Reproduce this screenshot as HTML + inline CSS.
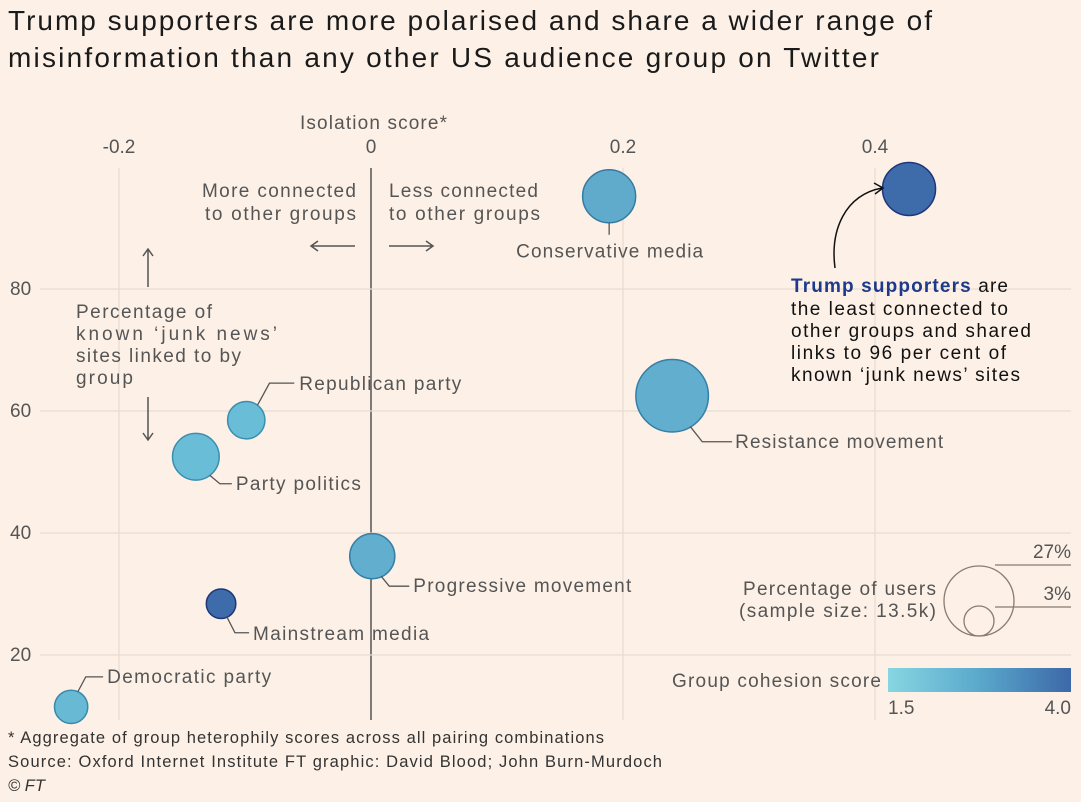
<!DOCTYPE html>
<html><head><meta charset="utf-8"><style>
body{margin:0;background:#fdf1e7;font-family:"Liberation Sans",sans-serif;}
svg{display:block}
text{font-family:"Liberation Sans",sans-serif}
</style></head><body>
<svg width="1081" height="802">
<rect width="1081" height="802" fill="#fdf1e7"/>
<text x="8" y="30" font-size="28" fill="#1a1a1a" textLength="924" lengthAdjust="spacing">Trump supporters are more polarised and share a wider range of</text>
<text x="8" y="67" font-size="28" fill="#1a1a1a" textLength="871" lengthAdjust="spacing">misinformation than any other US audience group on Twitter</text>
<g id="grid"></g>
<g id="marks"></g>
<text x="300" y="129" font-size="19" fill="#555" textLength="147" lengthAdjust="spacing">Isolation score*</text>
<text x="202" y="197" font-size="19" fill="#555" textLength="154" lengthAdjust="spacing">More connected</text>
<text x="205" y="220" font-size="19" fill="#555" textLength="151" lengthAdjust="spacing">to other groups</text>
<text x="389" y="197" font-size="19" fill="#555" textLength="149" lengthAdjust="spacing">Less connected</text>
<text x="389" y="220" font-size="19" fill="#555" textLength="151" lengthAdjust="spacing">to other groups</text>
<path d="M355 246 H312 M318 241 L311 246 L318 251" stroke="#555" fill="none" stroke-width="1.5"/>
<path d="M389 246 H432 M426 241 L433 246 L426 251" stroke="#555" fill="none" stroke-width="1.5"/>
<path d="M148 287 V249 M143 256 L148 249 L153 256" stroke="#555" fill="none" stroke-width="1.5"/>
<path d="M148 397 V440 M143 433 L148 440 L153 433" stroke="#555" fill="none" stroke-width="1.5"/>
<g font-size="19" fill="#555">
<text x="76" y="318" textLength="136" lengthAdjust="spacing">Percentage of</text><text x="76" y="340" textLength="201" lengthAdjust="spacing">known ‘junk news’</text><text x="76" y="362" textLength="165" lengthAdjust="spacing">sites linked to by</text><text x="76" y="384" textLength="57" lengthAdjust="spacing">group</text></g>
<g font-size="19" fill="#111">
<text x="791" y="292" textLength="217" lengthAdjust="spacing"><tspan fill="#1d3a8a" font-weight="bold">Trump supporters</tspan> are</text>
<text x="791" y="315" textLength="217" lengthAdjust="spacing">the least connected to</text><text x="791" y="337" textLength="240" lengthAdjust="spacing">other groups and shared</text>
<text x="791" y="359" textLength="215" lengthAdjust="spacing">links to 96 per cent of</text><text x="791" y="381" textLength="229" lengthAdjust="spacing">known ‘junk news’ sites</text></g>
<path d="M835 268 C830 230 845 195 882 188 M874 183 L883 188 L875 194" stroke="#111" fill="none" stroke-width="1.5"/>
<g>
<circle cx="979" cy="601" r="35" fill="none" stroke="#8a7a70" stroke-width="1.3"/>
<circle cx="979" cy="621" r="15" fill="none" stroke="#8a7a70" stroke-width="1.3"/>
<path d="M995 565 H1071 M995 607 H1071" stroke="#8a7a70" stroke-width="1.3"/>
<text x="1071" y="558" font-size="19" fill="#555" text-anchor="end">27%</text>
<text x="1071" y="600" font-size="19" fill="#555" text-anchor="end">3%</text>
<text x="743" y="595" font-size="19" fill="#555" textLength="193" lengthAdjust="spacing">Percentage of users</text>
<text x="739" y="617" font-size="19" fill="#555" textLength="197" lengthAdjust="spacing">(sample size: 13.5k)</text></g>
<defs><linearGradient id="cg"><stop offset="0" stop-color="#86d6e2"/><stop offset="0.5" stop-color="#5aa8cc"/><stop offset="1" stop-color="#3c68a8"/></linearGradient></defs>
<rect x="888" y="668" width="183" height="24" fill="url(#cg)"/>
<text x="672" y="687" font-size="19" fill="#555" textLength="209" lengthAdjust="spacing">Group cohesion score</text>
<text x="888" y="714" font-size="19" fill="#555">1.5</text>
<text x="1071" y="714" font-size="19" fill="#555" text-anchor="end">4.0</text>
<g font-size="16.5" fill="#333">
<text x="8" y="743" textLength="596" lengthAdjust="spacing">* Aggregate of group heterophily scores across all pairing combinations</text>
<text x="8" y="767" textLength="654" lengthAdjust="spacing">Source: Oxford Internet Institute  FT graphic: David Blood; John Burn-Murdoch</text>
<text x="8" y="791" font-style="italic">© FT</text></g>
</svg>
<script>
const xTicks=[-0.2,0,0.2,0.4];
const yTicks=[20,40,60,80];
const groups=["Trump supporters","Conservative media","Resistance movement","Republican party","Party politics","Progressive movement","Mainstream media","Democratic party"];
const isolation=[0.427,0.189,0.239,-0.099,-0.139,0.001,-0.119,-0.238];
const junk=[96.4,95.2,62.5,58.5,52.5,36.2,28.4,11.5];
const users=[15.5,15.5,29,7.7,12,11.2,4.8,6.1];
const cohesion=[3.9,2.2,2.1,1.7,1.7,2.1,3.9,1.8];
const labelWidths=[0,187,208,162,125,218,176,164];
const X=v=>371+v*1260, Y=v=>655-(v-20)*6.1, R=u=>35*Math.sqrt(u/27);
const ns="http://www.w3.org/2000/svg";
function mk(t,a,p){const e=document.createElementNS(ns,t);for(const k in a)e.setAttribute(k,a[k]);p.appendChild(e);return e;}
const grid=document.getElementById('grid'),marks=document.getElementById('marks');
xTicks.forEach(t=>{const l=mk('line',{x1:X(t),x2:X(t),y1:168,y2:720,stroke:t===0?'#555':'#e8dcd2','stroke-width':t===0?1.5:1.2},grid);


const tx=mk('text',{x:X(t),y:153,'font-size':19,fill:'#555','text-anchor':'middle'},grid);tx.textContent=t===0?'0':t.toFixed(1);

});
yTicks.forEach(t=>{const l=mk('line',{x1:40,x2:1071,y1:Y(t),y2:Y(t),stroke:'#e8dcd2','stroke-width':1.2},grid);


const tx=mk('text',{x:10,y:Y(t)+6,'font-size':19,fill:'#555'},grid);tx.textContent=t;

});
function col(c){const f=(c-1.5)/2.5;const a=[110,196,218],b=[60,104,168];return 'rgb('+a.map((v,i)=>Math.round(v+(b[i]-v)*f)).join(',')+')';}
function scol(c){const f=(c-1.5)/2.5;const a=[60,150,180],b=[30,50,120];return 'rgb('+a.map((v,i)=>Math.round(v+(b[i]-v)*f)).join(',')+')';}
const lab=[null,
 {p:(x,y,r)=>`M${x} ${y+r} v12`,dx:-93,dy:()=>61},
 {p:(x,y,r)=>`M${x+r*0.5} ${y+r*0.85} L${x+r*0.5+12} ${y+46} H${x+60}`,dx:63,dy:()=>52},
 {p:(x,y,r)=>`M${x+r*0.6} ${y-r*0.8} L${x+r*0.6+12} ${y-37} H${x+48}`,dx:53,dy:()=>-30},
 {p:(x,y,r)=>`M${x+r*0.6} ${y+r*0.8} L${x+r*0.6+10} ${y+27} H${x+36}`,dx:40,dy:()=>33},
 {p:(x,y,r)=>`M${x+r*0.4} ${y+r*0.9} L${x+r*0.4+8} ${y+30} H${x+37}`,dx:41,dy:()=>36},
 {p:(x,y,r)=>`M${x+r*0.4} ${y+r*0.9} L${x+r*0.4+8} ${y+29} H${x+28}`,dx:32,dy:()=>36},
 {p:(x,y,r)=>`M${x+r*0.4} ${y-r*0.9} L${x+r*0.4+8} ${y-30} H${x+32}`,dx:36,dy:()=>-24}];
groups.forEach((g,i)=>{const x=X(isolation[i]),y=Y(junk[i]),r=R(users[i]);
const c=mk('circle',{cx:x,cy:y,r:r,fill:col(cohesion[i]),stroke:scol(cohesion[i]),'stroke-width':1.5},marks);


if(lab[i]){const L=lab[i];const p=mk('path',{d:L.p(x,y,r),stroke:'#555',fill:'none','stroke-width':1.3},marks);


const t=mk('text',{x:x+L.dx,y:y+L.dy(r),'font-size':19,fill:'#555',textLength:labelWidths[i],lengthAdjust:'spacing'},marks);t.textContent=g;

}});
</script>
</body></html>
